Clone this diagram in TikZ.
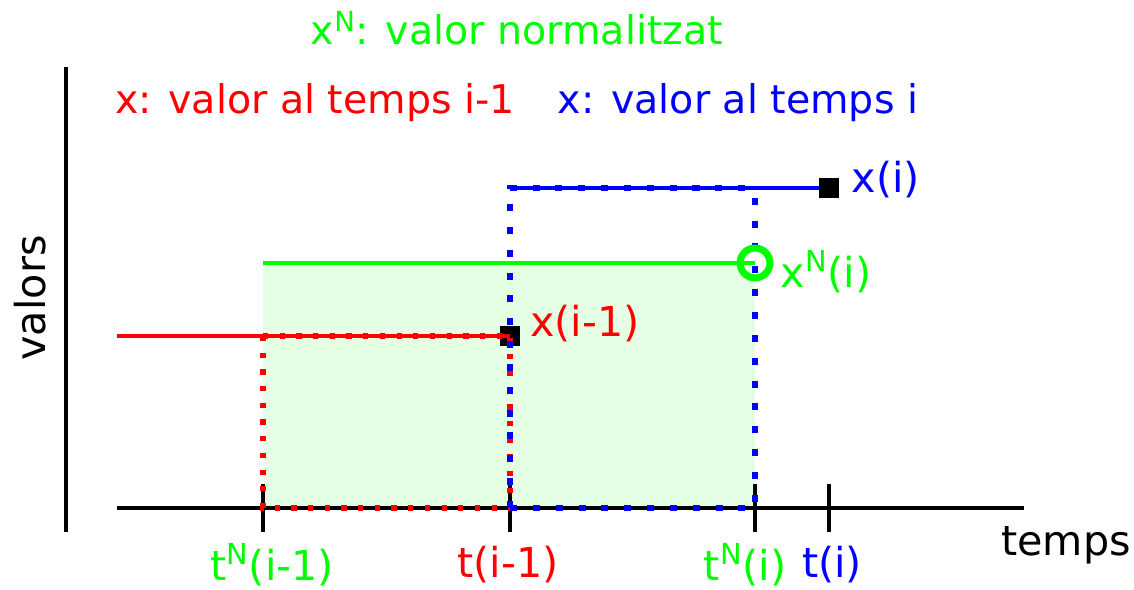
\documentclass[tikz,border=0pt]{standalone}
\usepackage{fontspec}
\setmainfont{DejaVu Sans}
\tikzset{
  lbl/.style={font=\fontsize{23.5}{28}\selectfont},
  leg/.style={font=\fontsize{22.5}{27}\selectfont},
  sqmark/.style={draw=black,fill=black,minimum size=11pt,inner sep=0pt},
  redpts/.style={red,line width=3pt,dash pattern=on 3pt off 6.5pt},
  bluepts/.style={blue,line width=3.5pt,dash pattern=on 4pt off 9pt}
}
\begin{document}
\begin{tikzpicture}[x=0.02cm,y=0.02cm]
  \useasboundingbox (0,0) rectangle (1134,590);
  % shaded area under the normalised value
  \fill[green!10] (263,82) rectangle (755,327);
  % axes
  \draw[line width=2pt] (66,58) -- (66,523);
  \draw[line width=2pt] (117,82) -- (1024,82);
  \foreach \t/\n in {263/tA,510/tB,755/tC,829/tD} {
    \coordinate (\n) at (\t,82);
    \draw[line width=2pt] (\t,58) -- (\t,106);
  }
  \node[lbl,rotate=90] (valors) at (30,292) {valors};
  \node[lbl] (temps) at (1066,45) {temps};
  % corners of the step paths
  \coordinate (rA) at (263,254);
  \coordinate (rL) at (117,254);
  \coordinate (gA) at (263,327);
  \coordinate (bA) at (510,402);
  \coordinate (bC) at (755,402);
  % markers
  \node[sqmark] (xprev) at (510,254) {};
  \node[sqmark] (xcur) at (829,402) {};
  % value at time i-1
  \draw[red,line width=2pt] (rL) -- (xprev.center);
  \draw[redpts] (rA) -- (tA) -- (tB) -- (xprev.center);
  \draw[redpts] (rA) -- (xprev.center);
  % value at time i
  \draw[blue,line width=2pt] (bA) -- (xcur);
  \draw[bluepts] (tB) -- (bA) -- (bC);
  \draw[bluepts] (tB) -- (tC) -- (bC);
  % normalised value
  \draw[green,line width=2.5pt] (gA) -- (755,327);
  \node[circle,draw=green,line width=4pt,minimum size=17pt,inner sep=0pt] (xnorm) at (755,327) {};
  % labels
  \node[lbl,red] (lprev) at (585,266) {x(i-1)};
  \node[lbl,blue] (lcur) at (886,410) {x(i)};
  \node[lbl,green] (lnorm) at (826,318) {x\textsuperscript{N}(i)};
  \node[lbl,green] (ltA) at (272,25) {t\textsuperscript{N}(i-1)};
  \node[lbl,red] (ltB) at (508,25) {t(i-1)};
  \node[lbl,green] (ltC) at (745,25) {t\textsuperscript{N}(i)};
  \node[lbl,blue] (ltD) at (832,25) {t(i)};
  % legend
  \node[leg,green] (legN) at (517,562) {x\textsuperscript{N}: valor normalitzat};
  \node[leg,red] (legA) at (315,487) {x: valor al temps i-1};
  \node[leg,blue] (legB) at (738,487) {x: valor al temps i};
\end{tikzpicture}
\end{document}
